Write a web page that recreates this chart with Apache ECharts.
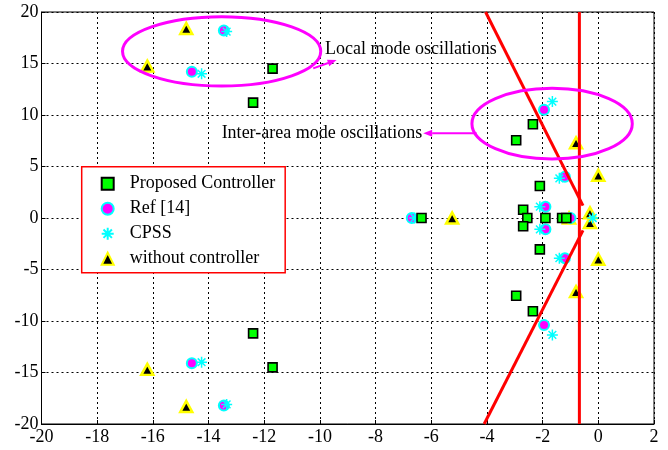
<!DOCTYPE html>
<html><head><meta charset="utf-8">
<script src="https://cdn.jsdelivr.net/npm/echarts@6/dist/echarts.min.js"></script>
<style>html,body{margin:0;padding:0;background:#fff}#c{width:668px;height:450px}</style>
</head><body><div id="c"></div>
<script>
// ---- data ----
var xTicks = [-20,-18,-16,-14,-12,-10,-8,-6,-4,-2,0,2];
var yTicks = [-20,-15,-10,-5,0,5,10,15,20];

var propX = [-11.7,-12.4,-12.4,-11.7,-6.35,-2.95,-2.35,-2.1,-2.7,-2.55,-2.7,-1.9,-1.3,-1.15,-2.1,-2.95,-2.35];
var propY = [14.5,11.2,-11.2,-14.5,0,7.55,9.1,3.1,0.8,0,-0.8,0,0,0,-3.05,-7.55,-9.05];

var refX = [-13.45,-14.6,-6.7,-1.95,-1.2,-1.9,-1.9,-1.2,-1.95,-14.6,-13.45,-1.0];
var refY = [18.2,14.2,0,10.5,4.0,1.1,-1.1,-3.9,-10.4,-14.1,-18.2,0];

var cpssX = [-13.35,-14.25,-6.6,-1.65,-1.4,-2.1,-2.1,-1.4,-1.65,-14.25,-13.35,-0.2];
var cpssY = [18.1,14.0,0,11.3,3.85,1.1,-1.1,-3.9,-11.35,-14.0,-18.1,0];

var woX = [-14.8,-16.2,-16.2,-14.8,-5.25,-0.8,0.0,-0.3,-0.3,0.0,-0.8,-1.05];
var woY = [18.4,14.75,-14.7,-18.3,0,7.3,4.15,0.5,-0.45,-4.0,-7.15,0];

var vLineX = [-0.68,-0.68], vLineY = [-20,20];
var upLineX = [-4.05,-0.55], upLineY = [20,1.2];
var loLineX = [-4.1,-0.55], loLineY = [-20,-1.2];

// annotations (data units)
var ellipseCx = [-13.53,-1.66], ellipseCy = [16.18,9.16];
var ellipseRx = [3.56,2.88], ellipseRy = [3.37,3.43];
var labelText = ['Local mode oscillations','Inter-area mode oscillations'];
var labelX = [-9.82,-13.53], labelY = [16.4,8.22];
var arrowFromX = [-10.24,-4.37], arrowFromY = [14.53,8.22];
var arrowToX = [-9.40,-6.29], arrowToY = [15.34,8.22];

function zip(a,b){return a.map(function(v,i){return [v,b[i]];});}

var FONT = 'Liberation Serif';
var star = 'path://M5 0 L5 10 M0 5 L10 5 M1.5 1.5 L8.5 8.5 M1.5 8.5 L8.5 1.5';

var chart = echarts.init(document.getElementById('c'), null, {renderer:'canvas'});
var option = {
  animation:false,
  backgroundColor:'#fff',
  grid:{left:41.5,right:14,top:12,bottom:26,show:true,borderColor:'#000',borderWidth:1,backgroundColor:'transparent'},
  xAxis:{type:'value',min:xTicks[0],max:xTicks[xTicks.length-1],interval:2,
    axisLine:{show:true,onZero:false,lineStyle:{color:'#000',width:1}},
    axisTick:{show:true,inside:true,length:4,lineStyle:{color:'#000'}},
    axisLabel:{color:'#000',fontFamily:FONT,fontSize:18,margin:4},
    splitLine:{show:true,lineStyle:{color:'#000',type:[2,3],width:1}}},
  yAxis:{type:'value',min:yTicks[0],max:yTicks[yTicks.length-1],interval:5,
    axisLine:{show:true,onZero:false,lineStyle:{color:'#000',width:1}},
    axisTick:{show:true,inside:true,length:4,lineStyle:{color:'#000'}},
    axisLabel:{color:'#000',fontFamily:FONT,fontSize:18,margin:3},
    splitLine:{show:true,lineStyle:{color:'#000',type:[2,3],width:1}}},
  legend:{orient:'vertical',left:81.7,top:166.7,backgroundColor:'#fff',borderColor:'#ff0000',borderWidth:1.5,
    padding:[8,10,5,19],itemWidth:12,itemHeight:12,itemGap:7,borderRadius:0,
    textStyle:{fontFamily:FONT,fontSize:18,color:'#000',padding:[0,0,0,11]},
    data:['Proposed Controller','Ref [14]','CPSS','without controller']},
  series:[
    {name:'Proposed Controller',type:'scatter',z:5,symbol:'rect',symbolSize:9,
      itemStyle:{color:'#00ff00',borderColor:'#000',borderWidth:1.6,opacity:1},data:zip(propX,propY)},
    {name:'Ref [14]',type:'scatter',z:3,symbol:'circle',symbolSize:10,
      itemStyle:{color:'#ff00ff',borderColor:'#00ffff',borderWidth:2,opacity:1},data:zip(refX,refY)},
    {name:'CPSS',type:'scatter',z:4,symbol:star,symbolSize:11,
      itemStyle:{color:'rgba(0,0,0,0)',borderColor:'#00ffff',borderWidth:1.5,opacity:1},data:zip(cpssX,cpssY)},
    {name:'without controller',type:'scatter',z:2,symbol:'triangle',symbolSize:[12,11],
      itemStyle:{color:'#000',borderColor:'#ffff00',borderWidth:2.5,opacity:1},data:zip(woX,woY)},
    {type:'line',z:6,symbol:'none',silent:true,lineStyle:{color:'#ff0000',width:3},data:zip(vLineX,vLineY)},
    {type:'line',z:6,symbol:'none',silent:true,lineStyle:{color:'#ff0000',width:3},data:zip(upLineX,upLineY)},
    {type:'line',z:6,symbol:'none',silent:true,lineStyle:{color:'#ff0000',width:3},data:zip(loLineX,loLineY)}
  ]
};
chart.setOption(option);

function px(x,y){return chart.convertToPixel({gridIndex:0},[x,y]);}
var g = [];
for (var i=0;i<ellipseCx.length;i++){
  var c = px(ellipseCx[i],ellipseCy[i]);
  var e = px(ellipseCx[i]+ellipseRx[i],ellipseCy[i]+ellipseRy[i]);
  g.push({type:'ellipse',z:100,shape:{cx:c[0],cy:c[1],rx:Math.abs(e[0]-c[0]),ry:Math.abs(e[1]-c[1])},
    style:{fill:null,stroke:'#ff00ff',lineWidth:3}});
  var t = px(labelX[i],labelY[i]);
  g.push({type:'text',z:100,x:t[0],y:t[1],style:{text:labelText[i],fill:'#000',font:'18px '+FONT,textVerticalAlign:'middle',textAlign:'left'}});
  var a = px(arrowFromX[i],arrowFromY[i]), b = px(arrowToX[i],arrowToY[i]);
  var ang = Math.atan2(b[1]-a[1],b[0]-a[0]);
  var L=9, W=3.5;
  var bx = b[0]-L*Math.cos(ang), by = b[1]-L*Math.sin(ang);
  g.push({type:'line',z:100,shape:{x1:a[0],y1:a[1],x2:bx,y2:by},style:{stroke:'#ff00ff',lineWidth:2}});
  g.push({type:'polygon',z:100,shape:{points:[[b[0],b[1]],[bx-W*Math.sin(ang),by+W*Math.cos(ang)],[bx+W*Math.sin(ang),by-W*Math.cos(ang)]]},
    style:{fill:'#ff00ff'}});
}
chart.setOption({graphic:g});
</script>
</body></html>
